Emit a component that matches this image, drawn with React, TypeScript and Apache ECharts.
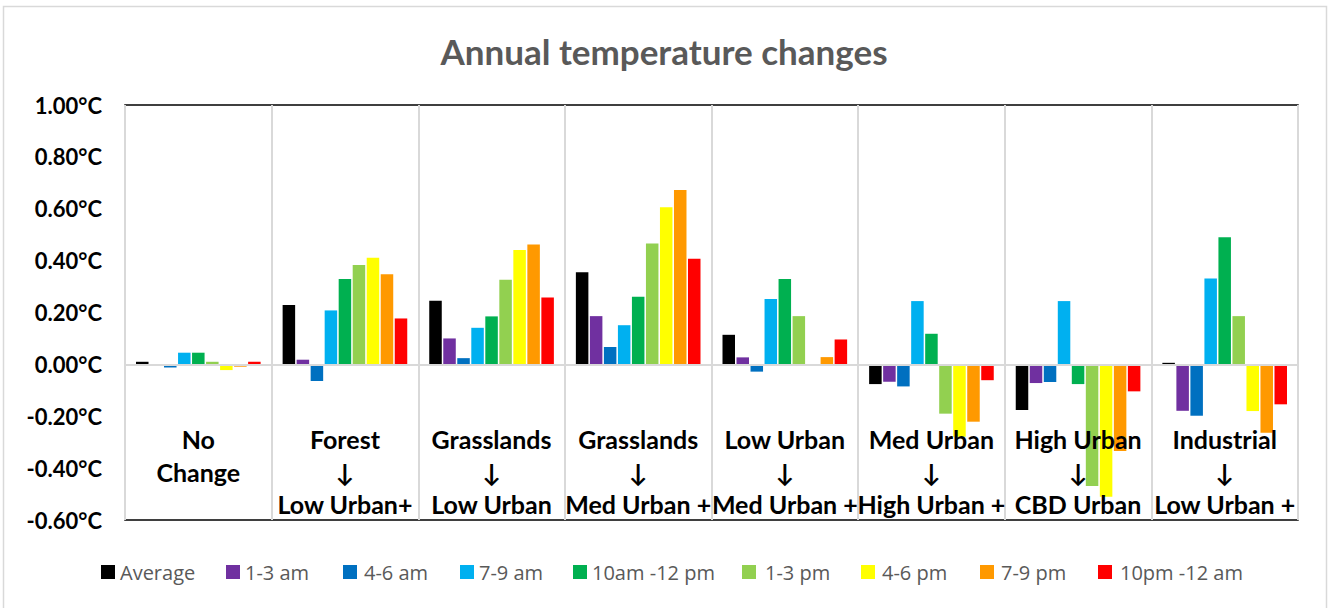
import React, { useEffect, useRef } from "react";
import * as echarts from "echarts";

const categories = [
  "No\nChange",
  "Forest\n↓\nLow Urban+",
  "Grasslands\n↓\nLow Urban",
  "Grasslands\n↓\nMed Urban +",
  "Low Urban\n↓\nMed Urban +",
  "Med Urban\n↓\nHigh Urban +",
  "High Urban\n↓\nCBD Urban",
  "Industrial\n↓\nLow Urban +",
];

const seriesNames = ["Average", "1-3 am", "4-6 am", "7-9 am", "10am -12 pm", "1-3 pm", "4-6 pm", "7-9 pm", "10pm -12 am"];
const seriesColors = ["#000000", "#7030A0", "#0070C0", "#00B0F0", "#00B050", "#92D050", "#FFFF00", "#FF9900", "#FF0000"];

const average = [0.01, 0.229, 0.245, 0.355, 0.114, -0.076, -0.176, 0.006];
const am1to3 = [0, 0.018, 0.1, 0.186, 0.027, -0.067, -0.072, -0.179];
const am4to6 = [-0.012, -0.064, 0.024, 0.067, -0.028, -0.085, -0.068, -0.198];
const am7to9 = [0.045, 0.208, 0.141, 0.151, 0.252, 0.244, 0.244, 0.331];
const am10to12 = [0.045, 0.329, 0.185, 0.261, 0.329, 0.118, -0.076, 0.49];
const pm1to3 = [0.01, 0.383, 0.326, 0.466, 0.186, -0.19, -0.469, 0.186];
const pm4to6 = [-0.022, 0.411, 0.441, 0.606, 0, -0.279, -0.51, -0.18];
const pm7to9 = [-0.009, 0.347, 0.462, 0.672, 0.028, -0.221, -0.334, -0.264];
const pm10to12 = [0.01, 0.177, 0.258, 0.407, 0.096, -0.061, -0.104, -0.154];

const seriesData = [average, am1to3, am4to6, am7to9, am10to12, pm1to3, pm4to6, pm7to9, pm10to12];

const yMin = -0.6;
const yMax = 1.0;
const yStep = 0.2;

const legendIconX = [96, 221, 338, 455, 568, 737, 856, 975, 1093];
const legendTextPad = [0, 0, 2, 0, 0, 4, 2, 2, 3];

export default function App() {
  const ref = useRef<HTMLDivElement>(null);
  useEffect(() => {
    if (!ref.current) return;
    const chart = echarts.init(ref.current, null, { renderer: "svg" });
    const series: any[] = seriesNames.map((name, i) => ({
      name,
      type: "bar",
      data: seriesData[i],
      itemStyle: { color: seriesColors[i] },
      barGap: "12%",
      barCategoryGap: "15%",
      ...(i === 0
        ? {
            markLine: {
              silent: true,
              symbol: ["none", "none"],
              label: { show: false },
              lineStyle: { color: "#d9d9d9", width: 2, type: "solid" },
              data: [{ yAxis: 0 }],
            },
          }
        : {}),
    }));
    const legends = seriesNames.map((name, i) => ({
      data: [name],
      left: legendIconX[i],
      top: 557,
      itemWidth: 14,
      itemHeight: 14,
      icon: "rect",
      selectedMode: false,
      textStyle: {
        color: "#595959",
        fontSize: 20,
        fontFamily: "'Open Sans', sans-serif",
        padding: [0, 0, 0, legendTextPad[i]],
      },
    }));
    chart.setOption({
      animation: false,
      backgroundColor: "#ffffff",
      title: {
        text: "Annual temperature changes",
        left: "center",
        top: 28,
        textStyle: { color: "#595959", fontSize: 35, fontWeight: "bold", fontFamily: "Lato, sans-serif" },
      },
      legend: legends,
      grid: { left: 125, right: 30, top: 105, bottom: 88, show: true, borderColor: "#000", borderWidth: 1.5, backgroundColor: "transparent" },
      xAxis: {
        type: "category",
        data: categories,
        z: 10,
        axisLine: { show: false, onZero: false },
        axisTick: { show: false },
        splitLine: { show: true, lineStyle: { color: "#d9d9d9", width: 2 } },
        axisLabel: {
          interval: 0,
          margin: -97,
          verticalAlign: "top",
          color: "#000",
          fontSize: 25,
          fontWeight: "bold",
          lineHeight: 32.5,
          fontFamily: "Lato, 'DejaVu Sans', sans-serif",
        },
      },
      yAxis: {
        type: "value",
        min: yMin,
        max: yMax,
        interval: yStep,
        axisLine: { show: false },
        axisTick: { show: false },
        splitLine: { show: false },
        axisLabel: {
          margin: 23,
          color: "#000",
          fontSize: 22,
          fontWeight: "bold",
          fontFamily: "Lato, 'DejaVu Sans', sans-serif",
          formatter: (v: number) => (Math.abs(v) < 1e-9 ? 0 : v).toFixed(2) + "°C",
        },
      },
      graphic: [
        {
          type: "rect",
          silent: true,
          shape: { x: 3.5, y: 6.5, width: 1323, height: 620 },
          style: { fill: "none", stroke: "#d9d9d9", lineWidth: 1.5 },
          z: 100,
        },
      ],
      series,
    });
    return () => chart.dispose();
  }, []);
  return <div ref={ref} style={{ position: "fixed", left: 0, top: 0, width: 1328, height: 608 }} />;
}
